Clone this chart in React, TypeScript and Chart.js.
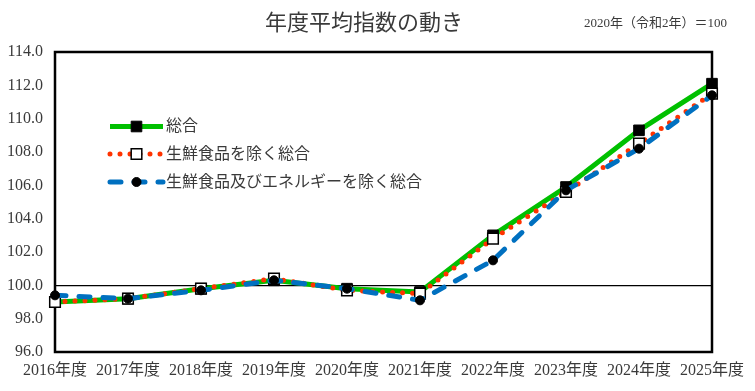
import React, { useEffect, useRef } from 'react';
import { Chart, registerables } from 'chart.js';

Chart.register(...registerables);

// ---- data ----
const categories = ['2016年度', '2017年度', '2018年度', '2019年度', '2020年度', '2021年度', '2022年度', '2023年度', '2024年度', '2025年度'];
const seriesNames = ['総合', '生鮮食品を除く総合', '生鮮食品及びエネルギーを除く総合'];
const sougou = [99.0, 99.2, 99.8, 100.3, 99.8, 99.6, 103.0, 105.9, 109.3, 112.1];
const exFresh = [99.0, 99.2, 99.8, 100.4, 99.7, 99.5, 102.8, 105.6, 108.5, 111.5];
const exFreshEnergy = [99.4, 99.2, 99.7, 100.3, 99.8, 99.1, 101.5, 105.7, 108.2, 111.4];
const yMin = 96;
const yMax = 114;
const yStep = 2;
const baseValue = 100;
const titleText = '年度平均指数の動き';
const noteText = '2020年（令和2年）＝100';

const FONT = "'Liberation Serif', 'Noto Sans CJK JP', serif";
const CJK = "'Noto Sans CJK JP', sans-serif";
const TEXT_COLOR = '#3a3a3a';

function drawMarker(ctx: CanvasRenderingContext2D, ds: any, x: number, y: number) {
  const r = ds.pointRadius;
  ctx.save();
  ctx.fillStyle = ds.pointBackgroundColor;
  ctx.strokeStyle = ds.pointBorderColor;
  ctx.lineWidth = ds.pointBorderWidth;
  ctx.setLineDash([]);
  ctx.beginPath();
  if (ds.pointStyle === 'rect') {
    const s = Math.SQRT1_2 * r;
    ctx.rect(x - s, y - s, 2 * s, 2 * s);
  } else {
    ctx.arc(x, y, r, 0, Math.PI * 2);
  }
  ctx.fill();
  ctx.stroke();
  ctx.restore();
}

const decorPlugin = {
  id: 'decor',
  beforeDatasetsDraw(chart: any) {
    const { ctx, chartArea: a } = chart;
    ctx.save();
    ctx.strokeStyle = '#000';
    ctx.lineWidth = 2.5;
    ctx.strokeRect(a.left, a.top, a.right - a.left, a.bottom - a.top);
    ctx.restore();
  },
  afterDraw(chart: any) {
    const { ctx } = chart;
    ctx.save();
    // title
    ctx.fillStyle = TEXT_COLOR;
    ctx.textBaseline = 'middle';
    ctx.textAlign = 'center';
    ctx.font = `22px ${CJK}`;
    ctx.fillText(titleText, 364, 22);
    ctx.textAlign = 'right';
    ctx.font = `13px ${FONT}`;
    ctx.fillText(noteText, 727, 24);

    // legend (drawn in dataset order)
    const rows = [126.5, 154, 182];
    const x0 = 110;
    const x1 = 163;
    const datasets = chart.data.datasets;
    datasets.forEach((ds: any, i: number) => {
      const y = rows[i];
      ctx.save();
      ctx.strokeStyle = ds.borderColor;
      ctx.lineWidth = ds.borderWidth;
      ctx.lineCap = ds.borderCapStyle || 'butt';
      ctx.setLineDash(ds.borderDash || []);
      ctx.beginPath();
      ctx.moveTo(x0, y);
      ctx.lineTo(x1, y);
      ctx.stroke();
      ctx.restore();
      drawMarker(ctx, ds, (x0 + x1) / 2, y);
      ctx.fillStyle = TEXT_COLOR;
      ctx.textAlign = 'left';
      ctx.textBaseline = 'middle';
      ctx.font = `16px ${FONT}`;
      ctx.fillText(ds.label, 166, y + 0.5);
    });
    ctx.restore();
  },
};

export default function App() {
  const canvasRef = useRef<HTMLCanvasElement | null>(null);

  useEffect(() => {
    document.body.style.margin = '0';
    const canvas = canvasRef.current;
    if (!canvas) return;
    const chart = new Chart(canvas, {
      type: 'line',
      data: {
        labels: categories,
        datasets: [
          {
            label: seriesNames[0],
            data: sougou,
            borderColor: '#00C000',
            backgroundColor: '#00C000',
            borderWidth: 5,
            borderCapStyle: 'butt',
            pointStyle: 'rect',
            pointRadius: 7.5,
            pointBackgroundColor: '#000',
            pointBorderColor: '#000',
            pointBorderWidth: 1,
            tension: 0,
            clip: false,
            order: 3,
          } as any,
          {
            label: seriesNames[1],
            data: exFresh,
            borderColor: '#FF3300',
            backgroundColor: '#FF3300',
            borderWidth: 5,
            borderDash: [0, 10],
            borderCapStyle: 'round',
            pointStyle: 'rect',
            pointRadius: 7.5,
            pointBackgroundColor: '#fff',
            pointBorderColor: '#000',
            pointBorderWidth: 1.5,
            tension: 0,
            clip: false,
            order: 2,
          } as any,
          {
            label: seriesNames[2],
            data: exFreshEnergy,
            borderColor: '#0070C0',
            backgroundColor: '#0070C0',
            borderWidth: 5,
            borderDash: [11, 13],
            borderCapStyle: 'round',
            pointStyle: 'circle',
            pointRadius: 4.5,
            pointBackgroundColor: '#000',
            pointBorderColor: '#000',
            pointBorderWidth: 1,
            tension: 0,
            clip: false,
            order: 1,
          } as any,
        ],
      },
      options: {
        responsive: false,
        animation: false,
        devicePixelRatio: 1,
        layout: { padding: { left: 0, right: 43, top: 52, bottom: 0 } },
        plugins: {
          legend: { display: false },
          title: { display: false },
          tooltip: { enabled: false },
        },
        scales: {
          x: {
            type: 'category',
            offset: false,
            grid: { display: false, drawTicks: false },
            border: { display: false },
            ticks: {
              autoSkip: false,
              maxRotation: 0,
              minRotation: 0,
              padding: 9,
              color: TEXT_COLOR,
              font: { family: FONT, size: 16 },
            },
            afterFit: (scale: any) => {
              scale.height = 39;
            },
          },
          y: {
            min: yMin,
            max: yMax,
            grid: {
              drawTicks: false,
              color: (c: any) => (c.tick && c.tick.value === baseValue ? '#000' : 'rgba(0,0,0,0)'),
              lineWidth: 1.2,
            },
            border: { display: false },
            ticks: {
              stepSize: yStep,
              padding: 12,
              color: TEXT_COLOR,
              font: { family: FONT, size: 16 },
              callback: (v: any) => Number(v).toFixed(1),
            },
            afterFit: (scale: any) => {
              scale.width = 55;
            },
          },
        },
      } as any,
      plugins: [decorPlugin],
    });
    return () => chart.destroy();
  }, []);

  return (
    <div style={{ width: 755, height: 391 }}>
      <canvas ref={canvasRef} width={755} height={391} style={{ display: 'block', width: 755, height: 391 }} />
    </div>
  );
}
